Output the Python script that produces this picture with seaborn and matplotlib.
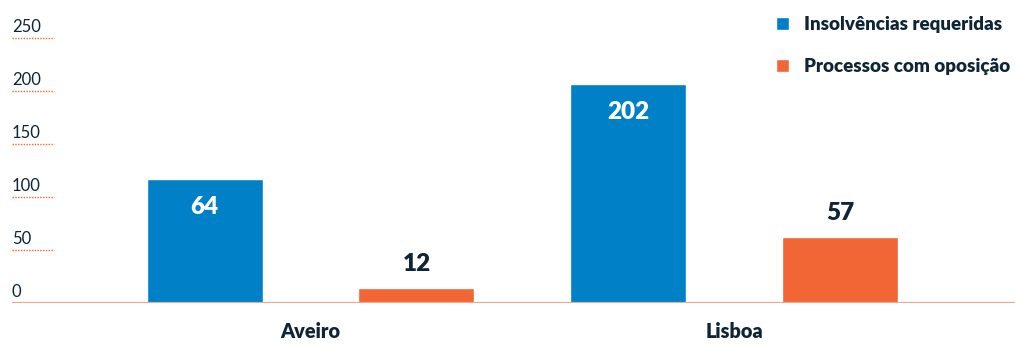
import numpy as np
import pandas as pd
import seaborn as sns
import matplotlib.pyplot as plt
from matplotlib import transforms

# ---- data ----
cities = ["Aveiro", "Lisboa"]
series = ["Insolvências requeridas", "Processos com oposição"]
insolv_heights = [117, 207]      # bar heights as drawn
oposicao_heights = [14, 62]
insolv_labels = ["64", "202"]    # printed values
oposicao_labels = ["12", "57"]
y_ticks = [0, 50, 100, 150, 200, 250]

BLUE = "#0080C6"
ORANGE = "#F16634"
DARK = "#0F2535"
BASE = "#F4A68A"

df = pd.DataFrame({
    "Distrito": cities * 2,
    "Série": [series[0]] * 2 + [series[1]] * 2,
    "Valor": insolv_heights + oposicao_heights,
})

sns.set_theme(style="white")
plt.rcParams["font.family"] = ["Lato", "DejaVu Sans"]

W, H = 1015, 347
fig = plt.figure(figsize=(W / 100, H / 100), dpi=100)
ax = fig.add_axes([12 / W, (H - 303) / H, (W - 12) / W, (303 - 10) / H])

sns.barplot(data=df, x="Distrito", y="Valor", hue="Série",
            palette=[BLUE, ORANGE], width=1.0, gap=0.452, saturation=1,
            ax=ax, legend=True)

ax.set_xlim(-0.705, -0.705 + 1003 / 423.5)
ax.set_ylim(0, (303 - 10) / 1.06)

for s in ax.spines.values():
    s.set_visible(False)
ax.set_xlabel("")
ax.set_ylabel("")
ax.set_yticks([])
ax.tick_params(axis="x", length=0, pad=14)
for lab in ax.get_xticklabels():
    lab.set_fontweight("heavy")
    lab.set_fontsize(14.3)
    lab.set_color(DARK)

# y labels + short dotted guides
blend = transforms.blended_transform_factory(ax.transAxes, ax.transData)
off = transforms.ScaledTranslation(0, 4 / 72, fig.dpi_scale_trans)
for v in y_ticks:
    ax.text(0, v, str(v), transform=blend + off, ha="left", va="baseline",
            fontsize=12, color=DARK)
    if v != 0:
        ax.axhline(v, xmin=0, xmax=42 / 1003, color=ORANGE, lw=1,
                   ls=(0, (1, 1)), zorder=1)
ax.axhline(0, color=BASE, lw=1.6, zorder=5)

# value labels
labels_all = [insolv_labels, oposicao_labels]
for ci, cont in enumerate(ax.containers):
    for bi, bar in enumerate(cont.patches):
        x = bar.get_x() + bar.get_width() / 2
        top = bar.get_height()
        if ci == 0:
            ax.annotate(labels_all[ci][bi], xy=(x, top), xytext=(0, -20.5),
                        textcoords="offset points", ha="center", va="center",
                        fontsize=17.5, fontweight="heavy", color="white")
        else:
            ax.annotate(labels_all[ci][bi], xy=(x, top), xytext=(0, 17.5),
                        textcoords="offset points", ha="center", va="center",
                        fontsize=17.5, fontweight="heavy", color=DARK)

sns.move_legend(ax, "upper right", bbox_to_anchor=(1010 / W, 1 - 16 / H),
                bbox_transform=fig.transFigure, frameon=False, title=None,
                handlelength=0.7, handleheight=0.7, handletextpad=0.8,
                labelspacing=1.35, borderpad=0, borderaxespad=0,
                prop={"weight": "heavy", "size": 13.5}, labelcolor=DARK)

fig.savefig("out.png", dpi=100)
